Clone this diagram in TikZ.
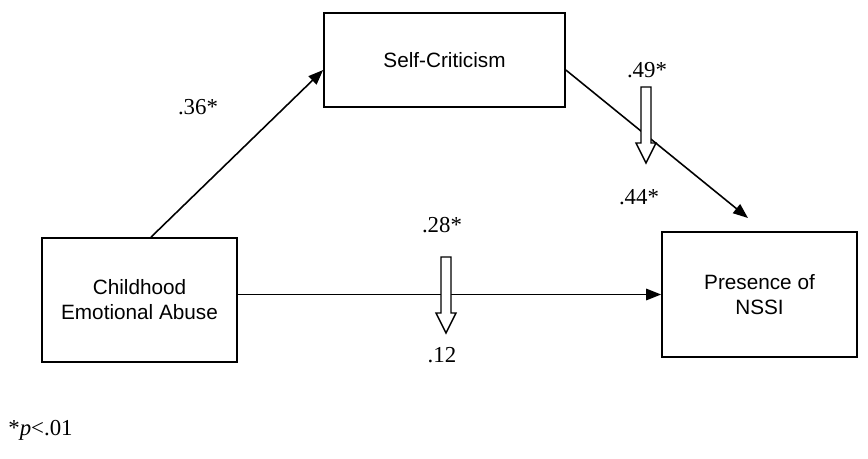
\documentclass[tikz,border=0pt]{standalone}
\usepackage{fontspec}
\setmainfont{Liberation Serif}
\newfontfamily\boxfont{Liberation Sans}
\usepackage{tikz}
\usetikzlibrary{arrows.meta,calc,positioning}

\begin{document}
\begin{tikzpicture}[x=0.02cm, y=-0.02cm, >=Triangle, line join=miter,
    varbox/.style={draw, line width=1pt, align=center, inner sep=0pt,
      font=\boxfont\fontsize{11.8}{14.2}\selectfont},
    coef/.style={font=\fontsize{13}{15}\selectfont, inner sep=0pt},
    arr/.style={line width=0.9pt, -{Triangle[length=8.5pt,width=6.5pt]}},
    hollowdown/.pic={
      \draw[line width=0.8pt, fill=white]
        (-5,0) -- (-5,56) -- (-10,56) -- (0,76) -- (10,56) -- (5,56) -- (5,0) -- cycle;
    }]
   \path[use as bounding box] (0,0) rectangle (868,458);

   % variables
   \node[varbox, minimum width=4.82cm, minimum height=1.88cm] (selfcrit) at (444.5,60) {Self-Criticism};
   \node[varbox, minimum width=3.9cm, minimum height=2.48cm] (abuse) at (139.5,300) {Childhood\\Emotional Abuse};
   \node[varbox, minimum width=3.9cm, minimum height=2.5cm] (nssi) at (759.5,294.5) {Presence of\\NSSI};
   \coordinate (tip) at (748,218);

   % paths
   \draw[arr] ([xshift=0.23cm]abuse.north) -- ([yshift=-0.2cm]selfcrit.west);
   \draw[arr] ([yshift=-0.2cm]selfcrit.east) -- (tip);
   \draw[arr] (abuse.east |- nssi.west) -- (nssi.west);

   % change in coefficients
   \pic at (646,87) {hollowdown};
   \pic at (446,257) {hollowdown};

   \node[coef] (a) at (198,107) {.36*};
   \node[coef] (b1) at (647,70) {.49*};
   \node[coef] (b2) at (639,197) {.44*};
   \node[coef] (c1) at (442,225) {.28*};
   \node[coef] (c2) at (442,355) {.12};
   \node[coef, anchor=west] (note) at (8,430) {*\textit{p}<.01};
\end{tikzpicture}
\end{document}
